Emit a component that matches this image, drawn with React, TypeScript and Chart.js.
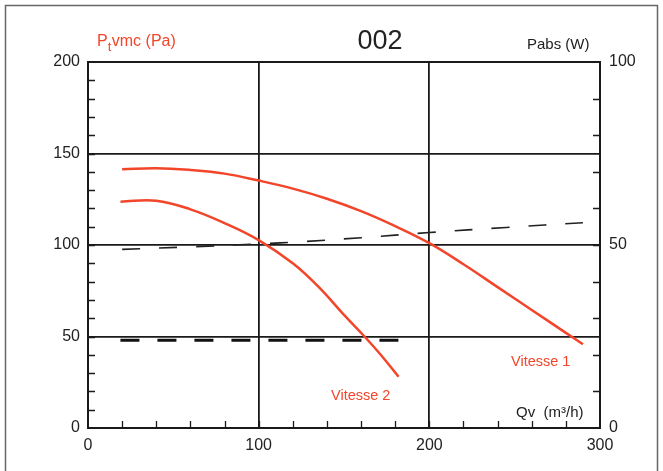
import React, { useEffect, useRef } from "react";
import { Chart, registerables } from "chart.js";

Chart.register(...registerables);

// Pressure curves (Pa) vs flow (m³/h)
const qVitesse1 = [20, 40, 60, 80, 100, 120, 140, 160, 180, 200, 220, 240, 260, 280, 290];
const pVitesse1 = [141.4, 142, 141, 139, 135.2, 130.8, 125.3, 118.5, 110.3, 101, 89.5, 77, 64.5, 52, 45.8];
const qVitesse2 = [19, 40, 60, 80, 100, 120, 135, 150, 162, 172, 182];
const pVitesse2 = [123.7, 124.2, 119.5, 112, 102.7, 90, 77.2, 61.8, 50, 39.5, 28];
// Absorbed power (W) vs flow
const qPower1 = [20, 60, 100, 125, 160, 200, 245, 290];
const wPower1 = [48.8, 49.5, 50.3, 50.9, 52, 53.4, 54.8, 56.1];
const qPower2 = [19, 182];
const wPower2 = [24, 24];

const xTicks = [0, 100, 200, 300];
const yLeftTicks = [0, 50, 100, 150, 200];
const yRightTicks = [0, 50, 100];

const RED = "#f2452a";
const DARK = "#1a1a1a";
const FONT = "'Liberation Sans', Arial, sans-serif";

const pts = (xs: number[], ys: number[]) => xs.map((x, i) => ({ x, y: ys[i] }));

const decor = {
  id: "decor",
  afterDraw(chart: any) {
    const { ctx, chartArea: a, scales } = chart;
    const x = scales.x, y = scales.y, y1 = scales.y1;
    ctx.save();
    // outer border
    ctx.strokeStyle = "#666";
    ctx.lineWidth = 1.5;
    ctx.beginPath();
    ctx.moveTo(5.5, 471);
    ctx.lineTo(5.5, 5.5);
    ctx.lineTo(657.5, 5.5);
    ctx.lineTo(657.5, 471);
    ctx.stroke();
    // frame
    ctx.strokeStyle = DARK;
    ctx.lineWidth = 2;
    ctx.strokeRect(a.left, a.top, a.right - a.left, a.bottom - a.top);
    // inside minor ticks
    ctx.lineWidth = 1.3;
    ctx.beginPath();
    for (let v = 10; v < 200; v += 10) {
      const py = Math.round(y.getPixelForValue(v)) + 0.5;
      ctx.moveTo(a.left, py);
      ctx.lineTo(a.left + 7, py);
    }
    for (let v = 10; v < 100; v += 10) {
      const py = Math.round(y1.getPixelForValue(v)) + 0.5;
      ctx.moveTo(a.right, py);
      ctx.lineTo(a.right - 7, py);
    }
    for (let v = 20; v < 300; v += 20) {
      const px = Math.round(x.getPixelForValue(v)) + 0.5;
      ctx.moveTo(px, a.bottom);
      ctx.lineTo(px, a.bottom - 7);
    }
    ctx.stroke();
    // texts
    ctx.textBaseline = "alphabetic";
    ctx.fillStyle = "#222";
    ctx.font = `27px ${FONT}`;
    ctx.textAlign = "center";
    ctx.fillText("002", 380, 49);
    ctx.font = `15px ${FONT}`;
    ctx.textAlign = "left";
    ctx.fillText("Pabs (W)", 527, 49);
    ctx.fillText("Qv  (m³/h)", 516, 417);
    // Ptvmc (Pa)
    ctx.fillStyle = RED;
    ctx.font = `16px ${FONT}`;
    ctx.fillText("P", 97, 46);
    const pw = ctx.measureText("P").width;
    ctx.font = `13px ${FONT}`;
    ctx.fillText("t", 97 + pw, 51);
    const tw = ctx.measureText("t").width;
    ctx.font = `16px ${FONT}`;
    ctx.fillText("vmc (Pa)", 97 + pw + tw + 0.5, 46);
    ctx.font = `14.5px ${FONT}`;
    ctx.fillText("Vitesse 1", 511, 366);
    ctx.fillText("Vitesse 2", 331, 400);
    ctx.restore();
  },
};

export default function App() {
  const ref = useRef<HTMLCanvasElement>(null);
  useEffect(() => {
    if (!ref.current) return;
    const chart = new Chart(ref.current, {
      type: "line",
      data: {
        datasets: [
          {
            label: "Vitesse 1",
            data: pts(qVitesse1, pVitesse1),
            yAxisID: "y",
            borderColor: RED,
            borderWidth: 2.5,
            pointRadius: 0,
            tension: 0.4,
          },
          {
            label: "Vitesse 2",
            data: pts(qVitesse2, pVitesse2),
            yAxisID: "y",
            borderColor: RED,
            borderWidth: 2.5,
            pointRadius: 0,
            tension: 0.4,
          },
          {
            label: "Pabs 1",
            data: pts(qPower1, wPower1),
            yAxisID: "y1",
            borderColor: "#222",
            borderWidth: 1.6,
            borderDash: [18, 19],
            pointRadius: 0,
            tension: 0.4,
          },
          {
            label: "Pabs 2",
            data: pts(qPower2, wPower2),
            yAxisID: "y1",
            borderColor: "#111",
            borderWidth: 3,
            borderDash: [19, 18],
            pointRadius: 0,
          },
        ],
      },
      options: {
        responsive: false,
        animation: false,
        devicePixelRatio: 1,
        layout: { padding: { top: 62, left: 0, right: 0, bottom: 0 } },
        plugins: { legend: { display: false }, tooltip: { enabled: false }, title: { display: false } },
        scales: {
          x: {
            type: "linear",
            min: 0,
            max: 300,
            afterFit: (s: any) => { s.height = 43; },
            afterBuildTicks: (s: any) => { s.ticks = xTicks.map((v) => ({ value: v })); },
            ticks: { color: "#222", font: { family: FONT, size: 16 }, padding: 8, autoSkip: false, maxRotation: 0 },
            grid: {
              drawTicks: false,
              color: (c: any) => (c.tick && c.tick.value > 0 && c.tick.value < 300 ? DARK : "transparent"),
              lineWidth: 1.8,
            },
            border: { display: false },
          },
          y: {
            type: "linear",
            position: "left",
            min: 0,
            max: 200,
            afterFit: (s: any) => { s.width = 88; },
            afterBuildTicks: (s: any) => { s.ticks = yLeftTicks.map((v) => ({ value: v })); },
            ticks: { color: "#222", font: { family: FONT, size: 16 }, padding: 8, autoSkip: false },
            grid: {
              drawTicks: false,
              color: (c: any) => (c.tick && c.tick.value > 0 && c.tick.value < 200 ? DARK : "transparent"),
              lineWidth: 1.8,
            },
            border: { display: false },
          },
          y1: {
            type: "linear",
            position: "right",
            min: 0,
            max: 100,
            afterFit: (s: any) => { s.width = 63; },
            afterBuildTicks: (s: any) => { s.ticks = yRightTicks.map((v) => ({ value: v })); },
            ticks: { color: "#222", font: { family: FONT, size: 16 }, padding: 9, autoSkip: false },
            grid: { display: false, drawTicks: false },
            border: { display: false },
          },
        },
      },
      plugins: [decor],
    } as any);
    return () => chart.destroy();
  }, []);
  return (
    <div style={{ position: "fixed", left: 0, top: 0, width: 663, height: 471, background: "#fff" }}>
      <canvas ref={ref} width={663} height={471} style={{ width: 663, height: 471, display: "block" }} />
    </div>
  );
}
